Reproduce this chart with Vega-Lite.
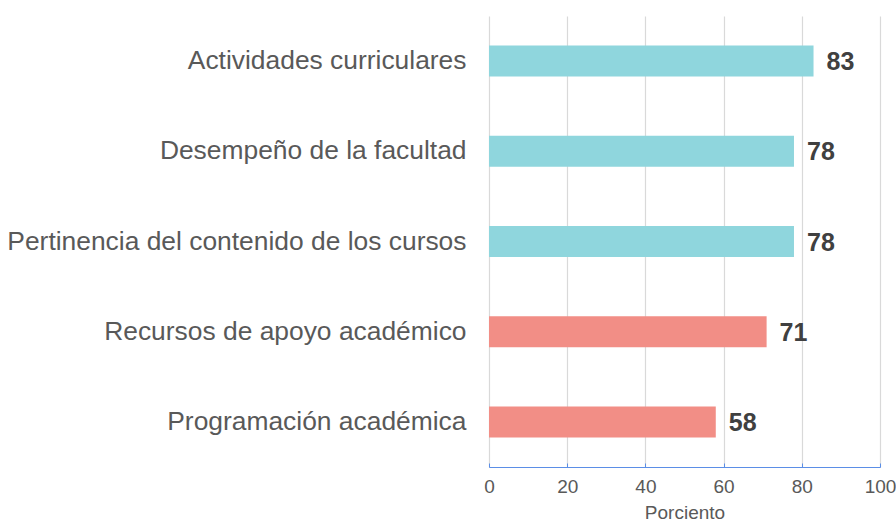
{
  "$schema": "https://vega.github.io/schema/vega-lite/v6.json",
  "autosize": "none",
  "width": 391,
  "height": 451,
  "padding": {"left": 489, "top": 16, "right": 16, "bottom": 63},
  "background": "white",
  "config": {"view": {"stroke": null}, "font": "Liberation Sans"},
  "data": {"values": [
    {"cat": "Actividades curriculares", "val": 83, "grp": "a"},
    {"cat": "Desempeño de la facultad", "val": 78, "grp": "a"},
    {"cat": "Pertinencia del contenido de los cursos", "val": 78, "grp": "a"},
    {"cat": "Recursos de apoyo académico", "val": 71, "grp": "b"},
    {"cat": "Programación académica", "val": 58, "grp": "b"}
  ]},
  "encoding": {
    "y": {"field": "cat", "type": "nominal", "sort": null,
      "scale": {"paddingInner": 0, "paddingOuter": 0},
      "axis": {"title": null, "domain": false, "ticks": false, "labelPadding": 23, "labelFontSize": 26.4, "labelColor": "#595959", "labelLimit": 600, "grid": false}},
    "x": {"field": "val", "type": "quantitative",
      "scale": {"domain": [0, 100], "nice": false},
      "axis": {"title": "Porciento", "titleFontSize": 19, "titleFontWeight": "normal", "titleColor": "#595959", "titlePadding": 7,
        "values": [0, 20, 40, 60, 80, 100], "labelFontSize": 19, "labelColor": "#595959", "labelPadding": 14,
        "domainColor": "#5b8ee6", "domainWidth": 1.2, "ticks": true, "tickSize": -4, "tickColor": "#5b8ee6",
        "grid": true, "gridColor": "#d9d9d9", "gridWidth": 1.2, "labelFlush": false}}
  },
  "layer": [
    {"mark": {"type": "bar", "size": 31},
     "encoding": {"color": {"field": "grp", "type": "nominal", "legend": null,
       "scale": {"domain": ["a", "b"], "range": ["#8fd6dd", "#f28e86"]}}}},
    {"mark": {"type": "text", "align": "left", "dx": 13, "dy": 1, "fontSize": 25, "fontWeight": "bold", "color": "#404040", "baseline": "middle"},
     "encoding": {"text": {"field": "val", "type": "quantitative"}}}
  ]
}
